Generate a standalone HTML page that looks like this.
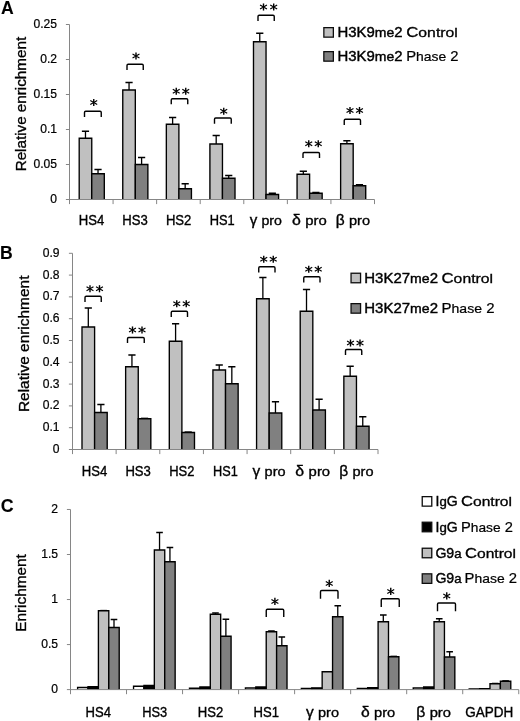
<!DOCTYPE html>
<html><head><meta charset="utf-8"><title>Figure</title>
<style>
html,body{margin:0;padding:0;background:#fff;}
svg{display:block;will-change:transform;font-family:"Liberation Sans",sans-serif;fill:#000;}
</style></head><body>
<svg width="520" height="721" viewBox="0 0 520 721">
<defs><filter id="soft" x="0" y="0" width="520" height="721" filterUnits="userSpaceOnUse"><feGaussianBlur stdDeviation="0.35"/></filter></defs>
<rect width="520" height="721" fill="#fff" stroke="none"/>
<g filter="url(#soft)">
<text x="57.00" y="202.90" font-size="12.1" text-anchor="end" stroke="#000" stroke-width="0.22" >0</text>
<text x="57.00" y="167.90" font-size="12.1" text-anchor="end" stroke="#000" stroke-width="0.22" >0.05</text>
<text x="57.00" y="132.90" font-size="12.1" text-anchor="end" stroke="#000" stroke-width="0.22" >0.1</text>
<text x="57.00" y="97.90" font-size="12.1" text-anchor="end" stroke="#000" stroke-width="0.22" >0.15</text>
<text x="57.00" y="62.90" font-size="12.1" text-anchor="end" stroke="#000" stroke-width="0.22" >0.2</text>
<text x="57.00" y="27.90" font-size="12.1" text-anchor="end" stroke="#000" stroke-width="0.22" >0.25</text>
<text transform="translate(25.50,104.10) rotate(-90)" font-size="13.8" text-anchor="middle" stroke="#000" stroke-width="0.33" textLength="134.50" lengthAdjust="spacingAndGlyphs">Relative enrichment</text>
<text x="1.00" y="13.75" font-size="17.6" text-anchor="start" stroke="#000" stroke-width="0.1" font-weight="bold" >A</text>
<path d="M81.88 131.25H89.08M85.48 131.25V138.25" stroke="#000" stroke-width="1.3" fill="none"/>
<path d="M94.43 169.50H101.62M98.03 169.50V173.75" stroke="#000" stroke-width="1.3" fill="none"/>
<path d="M79.20 199.50V138.25H91.75V199.50" fill="#c0c0c0" stroke="#000" stroke-width="1.35"/>
<path d="M91.75 199.50V173.75H104.30V199.50" fill="#808080" stroke="#000" stroke-width="1.35"/>
<path d="M125.45 82.50H132.65M129.05 82.50V90.00" stroke="#000" stroke-width="1.3" fill="none"/>
<path d="M138.00 157.50H145.20M141.60 157.50V164.50" stroke="#000" stroke-width="1.3" fill="none"/>
<path d="M122.77 199.50V90.00H135.32V199.50" fill="#c0c0c0" stroke="#000" stroke-width="1.35"/>
<path d="M135.32 199.50V164.50H147.87V199.50" fill="#808080" stroke="#000" stroke-width="1.35"/>
<path d="M169.02 117.50H176.22M172.62 117.50V124.25" stroke="#000" stroke-width="1.3" fill="none"/>
<path d="M181.57 183.75H188.77M185.17 183.75V188.75" stroke="#000" stroke-width="1.3" fill="none"/>
<path d="M166.34 199.50V124.25H178.89V199.50" fill="#c0c0c0" stroke="#000" stroke-width="1.35"/>
<path d="M178.89 199.50V188.75H191.44V199.50" fill="#808080" stroke="#000" stroke-width="1.35"/>
<path d="M212.59 135.50H219.79M216.19 135.50V144.00" stroke="#000" stroke-width="1.3" fill="none"/>
<path d="M225.14 175.50H232.34M228.74 175.50V178.25" stroke="#000" stroke-width="1.3" fill="none"/>
<path d="M209.91 199.50V144.00H222.46V199.50" fill="#c0c0c0" stroke="#000" stroke-width="1.35"/>
<path d="M222.46 199.50V178.25H235.01V199.50" fill="#808080" stroke="#000" stroke-width="1.35"/>
<path d="M256.16 33.25H263.36M259.76 33.25V41.75" stroke="#000" stroke-width="1.3" fill="none"/>
<path d="M268.71 193.25H275.91M272.31 193.25V194.50" stroke="#000" stroke-width="1.3" fill="none"/>
<path d="M253.49 199.50V41.75H266.04V199.50" fill="#c0c0c0" stroke="#000" stroke-width="1.35"/>
<path d="M266.04 199.50V194.50H278.59V199.50" fill="#808080" stroke="#000" stroke-width="1.35"/>
<path d="M299.73 171.25H306.93M303.33 171.25V174.25" stroke="#000" stroke-width="1.3" fill="none"/>
<path d="M312.28 192.50H319.48M315.88 192.50V193.25" stroke="#000" stroke-width="1.3" fill="none"/>
<path d="M297.06 199.50V174.25H309.61V199.50" fill="#c0c0c0" stroke="#000" stroke-width="1.35"/>
<path d="M309.61 199.50V193.25H322.16V199.50" fill="#808080" stroke="#000" stroke-width="1.35"/>
<path d="M343.30 140.75H350.50M346.90 140.75V143.75" stroke="#000" stroke-width="1.3" fill="none"/>
<path d="M355.85 184.75H363.05M359.45 184.75V185.75" stroke="#000" stroke-width="1.3" fill="none"/>
<path d="M340.63 199.50V143.75H353.18V199.50" fill="#c0c0c0" stroke="#000" stroke-width="1.35"/>
<path d="M353.18 199.50V185.75H365.73V199.50" fill="#808080" stroke="#000" stroke-width="1.35"/>
<text x="91.49" y="225.40" font-size="14.5" text-anchor="middle" stroke="#000" stroke-width="0.36" textLength="25.50" lengthAdjust="spacingAndGlyphs" >HS4</text>
<text x="135.06" y="225.40" font-size="14.5" text-anchor="middle" stroke="#000" stroke-width="0.36" textLength="25.50" lengthAdjust="spacingAndGlyphs" >HS3</text>
<text x="178.63" y="225.40" font-size="14.5" text-anchor="middle" stroke="#000" stroke-width="0.36" textLength="25.50" lengthAdjust="spacingAndGlyphs" >HS2</text>
<text x="222.20" y="225.40" font-size="14.5" text-anchor="middle" stroke="#000" stroke-width="0.36" textLength="25.00" lengthAdjust="spacingAndGlyphs" >HS1</text>
<text x="265.77" y="225.40" font-size="14.5" text-anchor="middle" stroke="#000" stroke-width="0.36" textLength="32.25" lengthAdjust="spacingAndGlyphs" >γ <tspan font-size="13.6">pro</tspan></text>
<text x="309.34" y="225.40" font-size="14.5" text-anchor="middle" stroke="#000" stroke-width="0.36" textLength="34.75" lengthAdjust="spacingAndGlyphs" >δ <tspan font-size="13.6">pro</tspan></text>
<text x="352.91" y="225.40" font-size="14.5" text-anchor="middle" stroke="#000" stroke-width="0.36" textLength="34.25" lengthAdjust="spacingAndGlyphs" >β <tspan font-size="13.6">pro</tspan></text>
<path d="M84.50 117.00V112.45Q84.50 111.25 85.70 111.25H100.05Q101.25 111.25 101.25 112.45V117.00" stroke="#000" stroke-width="1.4" fill="none"/>
<path d="M93.75 98.95V106.05" stroke="#000" stroke-width="1.4" fill="none"/>
<path d="M90.29 100.50L97.21 104.50M97.21 100.50L90.29 104.50" stroke="#000" stroke-width="1.15" fill="none"/>
<path d="M127.00 70.00V65.45Q127.00 64.25 128.20 64.25H142.05Q143.25 64.25 143.25 65.45V70.00" stroke="#000" stroke-width="1.4" fill="none"/>
<path d="M136.00 52.45V59.55" stroke="#000" stroke-width="1.4" fill="none"/>
<path d="M132.54 54.00L139.46 58.00M139.46 54.00L132.54 58.00" stroke="#000" stroke-width="1.15" fill="none"/>
<path d="M171.25 104.25V99.95Q171.25 98.75 172.45 98.75H186.55Q187.75 98.75 187.75 99.95V104.25" stroke="#000" stroke-width="1.4" fill="none"/>
<path d="M176.25 87.70V94.80" stroke="#000" stroke-width="1.4" fill="none"/>
<path d="M172.79 89.25L179.71 93.25M179.71 89.25L172.79 93.25" stroke="#000" stroke-width="1.15" fill="none"/>
<path d="M185.75 87.70V94.80" stroke="#000" stroke-width="1.4" fill="none"/>
<path d="M182.29 89.25L189.21 93.25M189.21 89.25L182.29 93.25" stroke="#000" stroke-width="1.15" fill="none"/>
<path d="M214.50 123.75V119.20Q214.50 118.00 215.70 118.00H230.05Q231.25 118.00 231.25 119.20V123.75" stroke="#000" stroke-width="1.4" fill="none"/>
<path d="M223.75 107.70V114.80" stroke="#000" stroke-width="1.4" fill="none"/>
<path d="M220.29 109.25L227.21 113.25M227.21 109.25L220.29 113.25" stroke="#000" stroke-width="1.15" fill="none"/>
<path d="M258.00 21.00V16.50Q258.00 15.30 259.20 15.30H273.05Q274.25 15.30 274.25 16.50V21.00" stroke="#000" stroke-width="1.4" fill="none"/>
<path d="M263.50 3.45V10.55" stroke="#000" stroke-width="1.4" fill="none"/>
<path d="M260.04 5.00L266.96 9.00M266.96 5.00L260.04 9.00" stroke="#000" stroke-width="1.15" fill="none"/>
<path d="M273.70 3.45V10.55" stroke="#000" stroke-width="1.4" fill="none"/>
<path d="M270.24 5.00L277.16 9.00M277.16 5.00L270.24 9.00" stroke="#000" stroke-width="1.15" fill="none"/>
<path d="M303.00 158.00V153.70Q303.00 152.50 304.20 152.50H318.30Q319.50 152.50 319.50 153.70V158.00" stroke="#000" stroke-width="1.4" fill="none"/>
<path d="M308.75 140.20V147.30" stroke="#000" stroke-width="1.4" fill="none"/>
<path d="M305.29 141.75L312.21 145.75M312.21 141.75L305.29 145.75" stroke="#000" stroke-width="1.15" fill="none"/>
<path d="M318.25 140.20V147.30" stroke="#000" stroke-width="1.4" fill="none"/>
<path d="M314.79 141.75L321.71 145.75M321.71 141.75L314.79 145.75" stroke="#000" stroke-width="1.15" fill="none"/>
<path d="M344.25 125.00V120.45Q344.25 119.25 345.45 119.25H359.30Q360.50 119.25 360.50 120.45V125.00" stroke="#000" stroke-width="1.4" fill="none"/>
<path d="M350.00 106.95V114.05" stroke="#000" stroke-width="1.4" fill="none"/>
<path d="M346.54 108.50L353.46 112.50M353.46 108.50L346.54 112.50" stroke="#000" stroke-width="1.15" fill="none"/>
<path d="M359.50 106.95V114.05" stroke="#000" stroke-width="1.4" fill="none"/>
<path d="M356.04 108.50L362.96 112.50M362.96 108.50L356.04 112.50" stroke="#000" stroke-width="1.15" fill="none"/>
<rect x="323.85" y="27.65" width="9.5" height="9.5" fill="#c0c0c0" stroke="#111" stroke-width="1.3"/>
<text x="337.40" y="37.10" font-size="14.2" text-anchor="start" stroke="#000" stroke-width="0.4" textLength="65.10" lengthAdjust="spacingAndGlyphs" >H3K9<tspan font-size="13.3">me</tspan>2</text>
<text x="406.20" y="37.10" font-size="14.2" text-anchor="start" stroke="#000" stroke-width="0.3" textLength="51.60" lengthAdjust="spacingAndGlyphs" >C<tspan font-size="13.3">ontrol</tspan></text>
<rect x="323.85" y="51.65" width="9.5" height="9.5" fill="#808080" stroke="#111" stroke-width="1.3"/>
<text x="337.40" y="61.10" font-size="14.2" text-anchor="start" stroke="#000" stroke-width="0.4" textLength="65.10" lengthAdjust="spacingAndGlyphs" >H3K9<tspan font-size="13.3">me</tspan>2</text>
<text x="406.20" y="61.10" font-size="14.2" text-anchor="start" stroke="#000" stroke-width="0.22" textLength="52.40" lengthAdjust="spacingAndGlyphs" >P<tspan font-size="13.3">hase</tspan> 2</text>
<text x="59.50" y="452.90" font-size="12.1" text-anchor="end" stroke="#000" stroke-width="0.22" >0</text>
<text x="59.50" y="431.10" font-size="12.1" text-anchor="end" stroke="#000" stroke-width="0.22" >0.1</text>
<text x="59.50" y="409.30" font-size="12.1" text-anchor="end" stroke="#000" stroke-width="0.22" >0.2</text>
<text x="59.50" y="387.50" font-size="12.1" text-anchor="end" stroke="#000" stroke-width="0.22" >0.3</text>
<text x="59.50" y="365.70" font-size="12.1" text-anchor="end" stroke="#000" stroke-width="0.22" >0.4</text>
<text x="59.50" y="343.90" font-size="12.1" text-anchor="end" stroke="#000" stroke-width="0.22" >0.5</text>
<text x="59.50" y="322.10" font-size="12.1" text-anchor="end" stroke="#000" stroke-width="0.22" >0.6</text>
<text x="59.50" y="300.30" font-size="12.1" text-anchor="end" stroke="#000" stroke-width="0.22" >0.7</text>
<text x="59.50" y="278.50" font-size="12.1" text-anchor="end" stroke="#000" stroke-width="0.22" >0.8</text>
<text x="59.50" y="256.70" font-size="12.1" text-anchor="end" stroke="#000" stroke-width="0.22" >0.9</text>
<text transform="translate(29.30,343.80) rotate(-90)" font-size="13.8" text-anchor="middle" stroke="#000" stroke-width="0.33" textLength="136.50" lengthAdjust="spacingAndGlyphs">Relative enrichment</text>
<text x="0.00" y="259.00" font-size="17.6" text-anchor="start" stroke="#000" stroke-width="0.1" font-weight="bold" >B</text>
<path d="M84.70 308.00H91.90M88.30 308.00V327.00" stroke="#000" stroke-width="1.3" fill="none"/>
<path d="M97.30 404.50H104.50M100.90 404.50V412.50" stroke="#000" stroke-width="1.3" fill="none"/>
<path d="M82.00 449.50V327.00H94.60V449.50" fill="#c0c0c0" stroke="#000" stroke-width="1.35"/>
<path d="M94.60 449.50V412.50H107.20V449.50" fill="#808080" stroke="#000" stroke-width="1.35"/>
<path d="M128.34 355.00H135.54M131.94 355.00V366.75" stroke="#000" stroke-width="1.3" fill="none"/>
<path d="M140.94 418.30H148.14" stroke="#000" stroke-width="1.3" fill="none"/>
<path d="M125.64 449.50V366.75H138.24V449.50" fill="#c0c0c0" stroke="#000" stroke-width="1.35"/>
<path d="M138.24 449.50V418.75H150.84V449.50" fill="#808080" stroke="#000" stroke-width="1.35"/>
<path d="M171.99 323.75H179.19M175.59 323.75V341.25" stroke="#000" stroke-width="1.3" fill="none"/>
<path d="M184.59 432.00H191.79" stroke="#000" stroke-width="1.3" fill="none"/>
<path d="M169.29 449.50V341.25H181.89V449.50" fill="#c0c0c0" stroke="#000" stroke-width="1.35"/>
<path d="M181.89 449.50V432.50H194.49V449.50" fill="#808080" stroke="#000" stroke-width="1.35"/>
<path d="M215.63 365.00H222.83M219.23 365.00V370.00" stroke="#000" stroke-width="1.3" fill="none"/>
<path d="M228.23 366.75H235.43M231.83 366.75V383.75" stroke="#000" stroke-width="1.3" fill="none"/>
<path d="M212.93 449.50V370.00H225.53V449.50" fill="#c0c0c0" stroke="#000" stroke-width="1.35"/>
<path d="M225.53 449.50V383.75H238.13V449.50" fill="#808080" stroke="#000" stroke-width="1.35"/>
<path d="M259.27 277.50H266.47M262.87 277.50V298.75" stroke="#000" stroke-width="1.3" fill="none"/>
<path d="M271.87 401.75H279.07M275.47 401.75V413.00" stroke="#000" stroke-width="1.3" fill="none"/>
<path d="M256.57 449.50V298.75H269.17V449.50" fill="#c0c0c0" stroke="#000" stroke-width="1.35"/>
<path d="M269.17 449.50V413.00H281.77V449.50" fill="#808080" stroke="#000" stroke-width="1.35"/>
<path d="M302.91 289.50H310.11M306.51 289.50V311.25" stroke="#000" stroke-width="1.3" fill="none"/>
<path d="M315.51 399.25H322.71M319.11 399.25V410.00" stroke="#000" stroke-width="1.3" fill="none"/>
<path d="M300.21 449.50V311.25H312.81V449.50" fill="#c0c0c0" stroke="#000" stroke-width="1.35"/>
<path d="M312.81 449.50V410.00H325.41V449.50" fill="#808080" stroke="#000" stroke-width="1.35"/>
<path d="M346.56 366.25H353.76M350.16 366.25V376.25" stroke="#000" stroke-width="1.3" fill="none"/>
<path d="M359.16 416.75H366.36M362.76 416.75V426.25" stroke="#000" stroke-width="1.3" fill="none"/>
<path d="M343.86 449.50V376.25H356.46V449.50" fill="#c0c0c0" stroke="#000" stroke-width="1.35"/>
<path d="M356.46 449.50V426.25H369.06V449.50" fill="#808080" stroke="#000" stroke-width="1.35"/>
<text x="94.52" y="475.60" font-size="14.5" text-anchor="middle" stroke="#000" stroke-width="0.36" textLength="25.50" lengthAdjust="spacingAndGlyphs" >HS4</text>
<text x="138.16" y="475.60" font-size="14.5" text-anchor="middle" stroke="#000" stroke-width="0.36" textLength="25.50" lengthAdjust="spacingAndGlyphs" >HS3</text>
<text x="181.81" y="475.60" font-size="14.5" text-anchor="middle" stroke="#000" stroke-width="0.36" textLength="25.25" lengthAdjust="spacingAndGlyphs" >HS2</text>
<text x="225.45" y="475.60" font-size="14.5" text-anchor="middle" stroke="#000" stroke-width="0.36" textLength="24.75" lengthAdjust="spacingAndGlyphs" >HS1</text>
<text x="269.09" y="475.60" font-size="14.5" text-anchor="middle" stroke="#000" stroke-width="0.36" textLength="33.00" lengthAdjust="spacingAndGlyphs" >γ <tspan font-size="13.6">pro</tspan></text>
<text x="312.74" y="475.60" font-size="14.5" text-anchor="middle" stroke="#000" stroke-width="0.36" textLength="34.75" lengthAdjust="spacingAndGlyphs" >δ <tspan font-size="13.6">pro</tspan></text>
<text x="356.38" y="475.60" font-size="14.5" text-anchor="middle" stroke="#000" stroke-width="0.36" textLength="34.25" lengthAdjust="spacingAndGlyphs" >β <tspan font-size="13.6">pro</tspan></text>
<path d="M85.00 302.00V297.45Q85.00 296.25 86.20 296.25H100.05Q101.25 296.25 101.25 297.45V302.00" stroke="#000" stroke-width="1.4" fill="none"/>
<path d="M90.00 285.20V292.30" stroke="#000" stroke-width="1.4" fill="none"/>
<path d="M86.54 286.75L93.46 290.75M93.46 286.75L86.54 290.75" stroke="#000" stroke-width="1.15" fill="none"/>
<path d="M99.50 285.20V292.30" stroke="#000" stroke-width="1.4" fill="none"/>
<path d="M96.04 286.75L102.96 290.75M102.96 286.75L96.04 290.75" stroke="#000" stroke-width="1.15" fill="none"/>
<path d="M127.50 343.00V338.70Q127.50 337.50 128.70 337.50H143.05Q144.25 337.50 144.25 338.70V343.00" stroke="#000" stroke-width="1.4" fill="none"/>
<path d="M132.50 326.45V333.55" stroke="#000" stroke-width="1.4" fill="none"/>
<path d="M129.04 328.00L135.96 332.00M135.96 328.00L129.04 332.00" stroke="#000" stroke-width="1.15" fill="none"/>
<path d="M142.00 326.45V333.55" stroke="#000" stroke-width="1.4" fill="none"/>
<path d="M138.54 328.00L145.46 332.00M145.46 328.00L138.54 332.00" stroke="#000" stroke-width="1.15" fill="none"/>
<path d="M171.25 317.00V312.45Q171.25 311.25 172.45 311.25H186.30Q187.50 311.25 187.50 312.45V317.00" stroke="#000" stroke-width="1.4" fill="none"/>
<path d="M176.75 300.20V307.30" stroke="#000" stroke-width="1.4" fill="none"/>
<path d="M173.29 301.75L180.21 305.75M180.21 301.75L173.29 305.75" stroke="#000" stroke-width="1.15" fill="none"/>
<path d="M186.25 300.20V307.30" stroke="#000" stroke-width="1.4" fill="none"/>
<path d="M182.79 301.75L189.71 305.75M189.71 301.75L182.79 305.75" stroke="#000" stroke-width="1.15" fill="none"/>
<path d="M258.75 272.50V267.95Q258.75 266.75 259.95 266.75H273.80Q275.00 266.75 275.00 267.95V272.50" stroke="#000" stroke-width="1.4" fill="none"/>
<path d="M263.75 255.70V262.80" stroke="#000" stroke-width="1.4" fill="none"/>
<path d="M260.29 257.25L267.21 261.25M267.21 257.25L260.29 261.25" stroke="#000" stroke-width="1.15" fill="none"/>
<path d="M273.25 255.70V262.80" stroke="#000" stroke-width="1.4" fill="none"/>
<path d="M269.79 257.25L276.71 261.25M276.71 257.25L269.79 261.25" stroke="#000" stroke-width="1.15" fill="none"/>
<path d="M303.75 282.50V277.95Q303.75 276.75 304.95 276.75H318.80Q320.00 276.75 320.00 277.95V282.50" stroke="#000" stroke-width="1.4" fill="none"/>
<path d="M308.75 265.70V272.80" stroke="#000" stroke-width="1.4" fill="none"/>
<path d="M305.29 267.25L312.21 271.25M312.21 267.25L305.29 271.25" stroke="#000" stroke-width="1.15" fill="none"/>
<path d="M318.25 265.70V272.80" stroke="#000" stroke-width="1.4" fill="none"/>
<path d="M314.79 267.25L321.71 271.25M321.71 267.25L314.79 271.25" stroke="#000" stroke-width="1.15" fill="none"/>
<path d="M345.50 355.00V350.70Q345.50 349.50 346.70 349.50H360.55Q361.75 349.50 361.75 350.70V355.00" stroke="#000" stroke-width="1.4" fill="none"/>
<path d="M350.50 339.45V346.55" stroke="#000" stroke-width="1.4" fill="none"/>
<path d="M347.04 341.00L353.96 345.00M353.96 341.00L347.04 345.00" stroke="#000" stroke-width="1.15" fill="none"/>
<path d="M360.00 339.45V346.55" stroke="#000" stroke-width="1.4" fill="none"/>
<path d="M356.54 341.00L363.46 345.00M363.46 341.00L356.54 345.00" stroke="#000" stroke-width="1.15" fill="none"/>
<rect x="351.05" y="273.25" width="9.5" height="9.5" fill="#c0c0c0" stroke="#111" stroke-width="1.3"/>
<text x="364.30" y="282.70" font-size="14.2" text-anchor="start" stroke="#000" stroke-width="0.4" textLength="73.70" lengthAdjust="spacingAndGlyphs" >H3K27<tspan font-size="13.3">me</tspan>2</text>
<text x="441.50" y="282.70" font-size="14.2" text-anchor="start" stroke="#000" stroke-width="0.3" textLength="51.50" lengthAdjust="spacingAndGlyphs" >C<tspan font-size="13.3">ontrol</tspan></text>
<rect x="351.05" y="303.65" width="9.5" height="9.5" fill="#808080" stroke="#111" stroke-width="1.3"/>
<text x="364.30" y="313.10" font-size="14.2" text-anchor="start" stroke="#000" stroke-width="0.4" textLength="73.70" lengthAdjust="spacingAndGlyphs" >H3K27<tspan font-size="13.3">me</tspan>2</text>
<text x="441.50" y="313.10" font-size="14.2" text-anchor="start" stroke="#000" stroke-width="0.22" textLength="53.00" lengthAdjust="spacingAndGlyphs" >P<tspan font-size="13.3">hase</tspan> 2</text>
<text x="58.00" y="693.40" font-size="12.1" text-anchor="end" stroke="#000" stroke-width="0.22" >0</text>
<text x="58.00" y="648.37" font-size="12.1" text-anchor="end" stroke="#000" stroke-width="0.22" >0.5</text>
<text x="58.00" y="603.34" font-size="12.1" text-anchor="end" stroke="#000" stroke-width="0.22" >1</text>
<text x="58.00" y="558.31" font-size="12.1" text-anchor="end" stroke="#000" stroke-width="0.22" >1.5</text>
<text x="58.00" y="513.28" font-size="12.1" text-anchor="end" stroke="#000" stroke-width="0.22" >2</text>
<text transform="translate(25.50,593.00) rotate(-90)" font-size="13.8" text-anchor="middle" stroke="#000" stroke-width="0.33" textLength="77.50" lengthAdjust="spacingAndGlyphs">Enrichment</text>
<text x="0.80" y="511.50" font-size="17.8" text-anchor="start" stroke="#000" stroke-width="0.1" font-weight="bold" >C</text>
<path d="M100.30 610.50H106.90" stroke="#000" stroke-width="1.3" fill="none"/>
<path d="M110.70 619.50H117.30M114.00 619.50V627.50" stroke="#000" stroke-width="1.3" fill="none"/>
<path d="M77.60 689.60V687.50H88.00V689.60" fill="#fff" stroke="#000" stroke-width="1.35"/>
<path d="M88.00 689.60V686.75H98.40V689.60" fill="#000" stroke="#000" stroke-width="1.35"/>
<path d="M98.40 689.60V610.75H108.80V689.60" fill="#c0c0c0" stroke="#000" stroke-width="1.35"/>
<path d="M108.80 689.60V627.50H119.20V689.60" fill="#808080" stroke="#000" stroke-width="1.35"/>
<path d="M156.24 532.50H162.84M159.54 532.50V550.00" stroke="#000" stroke-width="1.3" fill="none"/>
<path d="M166.64 547.50H173.24M169.94 547.50V561.75" stroke="#000" stroke-width="1.3" fill="none"/>
<path d="M133.54 689.60V686.25H143.94V689.60" fill="#fff" stroke="#000" stroke-width="1.35"/>
<path d="M143.94 689.60V685.50H154.34V689.60" fill="#000" stroke="#000" stroke-width="1.35"/>
<path d="M154.34 689.60V550.00H164.74V689.60" fill="#c0c0c0" stroke="#000" stroke-width="1.35"/>
<path d="M164.74 689.60V561.75H175.14V689.60" fill="#808080" stroke="#000" stroke-width="1.35"/>
<path d="M212.18 613.00H218.78M215.48 613.00V614.25" stroke="#000" stroke-width="1.3" fill="none"/>
<path d="M222.58 619.25H229.18M225.88 619.25V636.25" stroke="#000" stroke-width="1.3" fill="none"/>
<path d="M189.48 689.60V688.25H199.88V689.60" fill="#fff" stroke="#000" stroke-width="1.35"/>
<path d="M199.88 689.60V687.00H210.28V689.60" fill="#000" stroke="#000" stroke-width="1.35"/>
<path d="M210.28 689.60V614.25H220.68V689.60" fill="#c0c0c0" stroke="#000" stroke-width="1.35"/>
<path d="M220.68 689.60V636.25H231.08V689.60" fill="#808080" stroke="#000" stroke-width="1.35"/>
<path d="M268.12 631.00H274.72M271.42 631.00V631.75" stroke="#000" stroke-width="1.3" fill="none"/>
<path d="M278.52 637.00H285.12M281.82 637.00V645.75" stroke="#000" stroke-width="1.3" fill="none"/>
<path d="M245.42 689.60V688.00H255.82V689.60" fill="#fff" stroke="#000" stroke-width="1.35"/>
<path d="M255.82 689.60V687.00H266.22V689.60" fill="#000" stroke="#000" stroke-width="1.35"/>
<path d="M266.22 689.60V631.75H276.62V689.60" fill="#c0c0c0" stroke="#000" stroke-width="1.35"/>
<path d="M276.62 689.60V645.75H287.02V689.60" fill="#808080" stroke="#000" stroke-width="1.35"/>
<path d="M324.06 671.75H330.66" stroke="#000" stroke-width="1.3" fill="none"/>
<path d="M334.46 605.75H341.06M337.76 605.75V616.75" stroke="#000" stroke-width="1.3" fill="none"/>
<path d="M301.36 689.60V688.30H311.76V689.60" fill="#fff" stroke="#000" stroke-width="1.35"/>
<path d="M311.76 689.60V687.80H322.16V689.60" fill="#000" stroke="#000" stroke-width="1.35"/>
<path d="M322.16 689.60V671.75H332.56V689.60" fill="#c0c0c0" stroke="#000" stroke-width="1.35"/>
<path d="M332.56 689.60V616.75H342.96V689.60" fill="#808080" stroke="#000" stroke-width="1.35"/>
<path d="M380.00 615.00H386.60M383.30 615.00V621.75" stroke="#000" stroke-width="1.3" fill="none"/>
<path d="M390.40 656.30H397.00" stroke="#000" stroke-width="1.3" fill="none"/>
<path d="M357.30 689.60V688.30H367.70V689.60" fill="#fff" stroke="#000" stroke-width="1.35"/>
<path d="M367.70 689.60V687.60H378.10V689.60" fill="#000" stroke="#000" stroke-width="1.35"/>
<path d="M378.10 689.60V621.75H388.50V689.60" fill="#c0c0c0" stroke="#000" stroke-width="1.35"/>
<path d="M388.50 689.60V656.75H398.90V689.60" fill="#808080" stroke="#000" stroke-width="1.35"/>
<path d="M435.94 618.75H442.54M439.24 618.75V621.75" stroke="#000" stroke-width="1.3" fill="none"/>
<path d="M446.34 651.75H452.94M449.64 651.75V657.00" stroke="#000" stroke-width="1.3" fill="none"/>
<path d="M413.24 689.60V688.00H423.64V689.60" fill="#fff" stroke="#000" stroke-width="1.35"/>
<path d="M423.64 689.60V687.00H434.04V689.60" fill="#000" stroke="#000" stroke-width="1.35"/>
<path d="M434.04 689.60V621.75H444.44V689.60" fill="#c0c0c0" stroke="#000" stroke-width="1.35"/>
<path d="M444.44 689.60V657.00H454.84V689.60" fill="#808080" stroke="#000" stroke-width="1.35"/>
<path d="M491.88 683.40H498.48" stroke="#000" stroke-width="1.3" fill="none"/>
<path d="M502.28 680.80H508.88" stroke="#000" stroke-width="1.3" fill="none"/>
<path d="M469.18 689.60V688.80H479.58V689.60" fill="#fff" stroke="#000" stroke-width="1.35"/>
<path d="M479.58 689.60V688.60H489.98V689.60" fill="#000" stroke="#000" stroke-width="1.35"/>
<path d="M489.98 689.60V683.75H500.38V689.60" fill="#c0c0c0" stroke="#000" stroke-width="1.35"/>
<path d="M500.38 689.60V681.25H510.78V689.60" fill="#808080" stroke="#000" stroke-width="1.35"/>
<text x="98.25" y="716.60" font-size="14.5" text-anchor="middle" stroke="#000" stroke-width="0.36" textLength="25.50" lengthAdjust="spacingAndGlyphs" >HS4</text>
<text x="154.75" y="716.60" font-size="14.5" text-anchor="middle" stroke="#000" stroke-width="0.36" textLength="25.00" lengthAdjust="spacingAndGlyphs" >HS3</text>
<text x="210.50" y="716.60" font-size="14.5" text-anchor="middle" stroke="#000" stroke-width="0.36" textLength="25.50" lengthAdjust="spacingAndGlyphs" >HS2</text>
<text x="266.25" y="716.60" font-size="14.5" text-anchor="middle" stroke="#000" stroke-width="0.36" textLength="25.50" lengthAdjust="spacingAndGlyphs" >HS1</text>
<text x="322.50" y="716.60" font-size="14.5" text-anchor="middle" stroke="#000" stroke-width="0.36" textLength="33.00" lengthAdjust="spacingAndGlyphs" >γ <tspan font-size="13.6">pro</tspan></text>
<text x="378.10" y="716.60" font-size="14.5" text-anchor="middle" stroke="#000" stroke-width="0.36" textLength="34.25" lengthAdjust="spacingAndGlyphs" >δ <tspan font-size="13.6">pro</tspan></text>
<text x="433.60" y="716.60" font-size="14.5" text-anchor="middle" stroke="#000" stroke-width="0.36" textLength="34.75" lengthAdjust="spacingAndGlyphs" >β <tspan font-size="13.6">pro</tspan></text>
<text x="489.25" y="716.60" font-size="14.5" text-anchor="middle" stroke="#000" stroke-width="0.36" textLength="48.00" lengthAdjust="spacingAndGlyphs" >GAPDH</text>
<path d="M266.25 617.00V610.45Q266.25 609.25 267.45 609.25H282.55Q283.75 609.25 283.75 610.45V617.00" stroke="#000" stroke-width="1.4" fill="none"/>
<path d="M274.90 597.85V604.95" stroke="#000" stroke-width="1.4" fill="none"/>
<path d="M271.44 599.40L278.36 603.40M278.36 599.40L271.44 603.40" stroke="#000" stroke-width="1.15" fill="none"/>
<path d="M320.50 598.75V591.70Q320.50 590.50 321.70 590.50H336.80Q338.00 590.50 338.00 591.70V598.75" stroke="#000" stroke-width="1.4" fill="none"/>
<path d="M329.25 579.85V586.95" stroke="#000" stroke-width="1.4" fill="none"/>
<path d="M325.79 581.40L332.71 585.40M332.71 581.40L325.79 585.40" stroke="#000" stroke-width="1.15" fill="none"/>
<path d="M381.25 607.00V599.95Q381.25 598.75 382.45 598.75H398.05Q399.25 598.75 399.25 599.95V607.00" stroke="#000" stroke-width="1.4" fill="none"/>
<path d="M390.75 587.85V594.95" stroke="#000" stroke-width="1.4" fill="none"/>
<path d="M387.29 589.40L394.21 593.40M394.21 589.40L387.29 593.40" stroke="#000" stroke-width="1.15" fill="none"/>
<path d="M437.50 611.25V604.20Q437.50 603.00 438.70 603.00H454.30Q455.50 603.00 455.50 604.20V611.25" stroke="#000" stroke-width="1.4" fill="none"/>
<path d="M446.75 592.35V599.45" stroke="#000" stroke-width="1.4" fill="none"/>
<path d="M443.29 593.90L450.21 597.90M450.21 593.90L443.29 597.90" stroke="#000" stroke-width="1.15" fill="none"/>
<rect x="422.25" y="496.65" width="9.5" height="9.5" fill="#fff" stroke="#111" stroke-width="1.3"/>
<text x="435.60" y="506.10" font-size="14.2" text-anchor="start" stroke="#000" stroke-width="0.4" textLength="22.20" lengthAdjust="spacingAndGlyphs" >I<tspan font-size="13.3">g</tspan>G</text>
<text x="461.00" y="506.10" font-size="14.2" text-anchor="start" stroke="#000" stroke-width="0.3" textLength="51.00" lengthAdjust="spacingAndGlyphs" >C<tspan font-size="13.3">ontrol</tspan></text>
<rect x="422.25" y="522.25" width="9.5" height="9.5" fill="#000" stroke="#111" stroke-width="1.3"/>
<text x="435.60" y="531.70" font-size="14.2" text-anchor="start" stroke="#000" stroke-width="0.4" textLength="22.20" lengthAdjust="spacingAndGlyphs" >I<tspan font-size="13.3">g</tspan>G</text>
<text x="461.00" y="531.70" font-size="14.2" text-anchor="start" stroke="#000" stroke-width="0.22" textLength="51.80" lengthAdjust="spacingAndGlyphs" >P<tspan font-size="13.3">hase</tspan> 2</text>
<rect x="422.25" y="548.25" width="9.5" height="9.5" fill="#c0c0c0" stroke="#111" stroke-width="1.3"/>
<text x="435.40" y="557.70" font-size="14.2" text-anchor="start" stroke="#000" stroke-width="0.4" textLength="26.20" lengthAdjust="spacingAndGlyphs" >G9<tspan font-size="13.3">a</tspan></text>
<text x="465.00" y="557.70" font-size="14.2" text-anchor="start" stroke="#000" stroke-width="0.3" textLength="51.00" lengthAdjust="spacingAndGlyphs" >C<tspan font-size="13.3">ontrol</tspan></text>
<rect x="422.25" y="573.85" width="9.5" height="9.5" fill="#808080" stroke="#111" stroke-width="1.3"/>
<text x="435.40" y="583.30" font-size="14.2" text-anchor="start" stroke="#000" stroke-width="0.4" textLength="26.20" lengthAdjust="spacingAndGlyphs" >G9<tspan font-size="13.3">a</tspan></text>
<text x="464.60" y="583.30" font-size="14.2" text-anchor="start" stroke="#000" stroke-width="0.22" textLength="52.40" lengthAdjust="spacingAndGlyphs" >P<tspan font-size="13.3">hase</tspan> 2</text>
<path d="M69.50 24.50V204.10M69.50 199.50H374.50M65.90 199.50H69.50M65.90 164.50H69.50M65.90 129.50H69.50M65.90 94.50H69.50M65.90 59.50H69.50M65.90 24.50H69.50M113.07 199.50V204.10M156.64 199.50V204.10M200.21 199.50V204.10M243.79 199.50V204.10M287.36 199.50V204.10M330.93 199.50V204.10M374.50 199.50V204.10" stroke="#868686" stroke-width="1" fill="none"/>
<path d="M72.50 253.30V454.10M72.50 449.50H378.00M68.90 449.50H72.50M68.90 427.70H72.50M68.90 405.90H72.50M68.90 384.10H72.50M68.90 362.30H72.50M68.90 340.50H72.50M68.90 318.70H72.50M68.90 296.90H72.50M68.90 275.10H72.50M68.90 253.30H72.50M116.14 449.50V454.10M159.79 449.50V454.10M203.43 449.50V454.10M247.07 449.50V454.10M290.71 449.50V454.10M334.36 449.50V454.10M378.00 449.50V454.10" stroke="#868686" stroke-width="1" fill="none"/>
<path d="M70.50 509.48V694.20M70.50 689.60H518.75M66.90 689.60H70.50M66.90 644.57H70.50M66.90 599.54H70.50M66.90 554.51H70.50M66.90 509.48H70.50M126.53 689.60V694.20M182.56 689.60V694.20M238.59 689.60V694.20M294.62 689.60V694.20M350.66 689.60V694.20M406.69 689.60V694.20M462.72 689.60V694.20M518.75 689.60V694.20" stroke="#868686" stroke-width="1" fill="none"/>
</g>
</svg>
</body></html>
